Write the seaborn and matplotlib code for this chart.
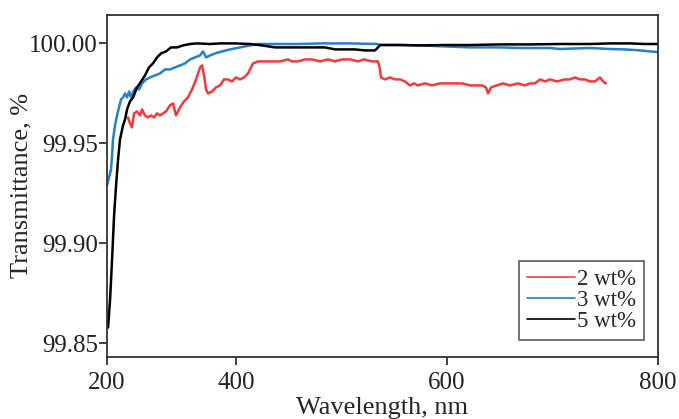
import pandas as pd
import seaborn as sns
import matplotlib.pyplot as plt
from matplotlib.lines import Line2D

# wavelength (nm) and transmittance (%)
wl_2 = [297.6, 299.5, 301.4, 303.3, 306.2, 309.0, 310.9, 313.7, 316.6, 319.4, 322.3, 325.1,
        328.0, 330.8, 333.6, 337.4, 340.3, 343.1, 346.9, 350.7, 354.5, 358.3, 362.1, 365.9,
        367.8, 369.7, 371.6, 373.5, 377.3, 381.0, 384.8, 388.6, 392.4, 396.2, 400.0, 403.8,
        407.6, 411.4, 414.2, 416.1, 420.9, 427.5, 434.1, 441.7, 449.3, 453.1, 458.8, 465.4,
        472.0, 479.6, 487.2, 493.8, 500.4, 508.1, 515.6, 521.3, 528.9, 534.6, 536.5, 537.4,
        541.2, 545.9, 550.7, 555.5, 560.2, 564.9, 568.7, 572.5, 579.1, 585.8, 593.4, 600.0,
        607.6, 614.2, 621.8, 627.5, 633.2, 637.0, 638.9, 641.7, 647.4, 653.1, 659.7, 667.3,
        673.9, 678.7, 683.4, 688.2, 692.9, 697.6, 704.3, 711.8, 716.6, 721.3, 726.1, 730.8,
        735.5, 740.3, 745.0, 747.9, 750.7]
tr_2 = [99.963, 99.960, 99.958, 99.965, 99.966, 99.964, 99.967, 99.964, 99.963, 99.964, 99.963, 99.965,
        99.964, 99.965, 99.966, 99.969, 99.970, 99.964, 99.968, 99.971, 99.973, 99.977, 99.982, 99.988,
        99.989, 99.984, 99.977, 99.975, 99.976, 99.978, 99.979, 99.982, 99.982, 99.981, 99.983, 99.982,
        99.983, 99.985, 99.988, 99.990, 99.991, 99.991, 99.991, 99.991, 99.992, 99.991, 99.991, 99.992,
        99.992, 99.991, 99.992, 99.991, 99.992, 99.992, 99.991, 99.992, 99.991, 99.991, 99.987, 99.983,
        99.982, 99.983, 99.982, 99.982, 99.981, 99.979, 99.980, 99.979, 99.980, 99.979, 99.980, 99.980,
        99.980, 99.980, 99.979, 99.979, 99.979, 99.978, 99.975, 99.978, 99.979, 99.980, 99.979, 99.980,
        99.979, 99.980, 99.980, 99.982, 99.981, 99.982, 99.981, 99.982, 99.982, 99.983, 99.982, 99.982,
        99.981, 99.981, 99.983, 99.981, 99.980]

wl_3 = [277.7, 279.6, 281.5, 282.5, 283.4, 285.3, 287.2, 289.1, 291.0, 292.9, 294.8, 296.7,
        298.6, 300.5, 302.4, 305.2, 308.1, 310.9, 314.7, 318.5, 323.2, 328.0, 332.7, 337.4,
        342.2, 346.9, 351.7, 356.4, 361.1, 365.9, 368.7, 371.6, 375.4, 380.1, 386.7, 394.3,
        403.8, 413.3, 420.9, 432.2, 446.4, 460.7, 479.6, 508.1, 533.6, 536.5, 555.5, 574.4,
        598.1, 621.8, 650.2, 669.2, 697.6, 707.1, 735.5, 754.5, 768.7, 782.9, 792.4, 800.0]
tr_3 = [99.929, 99.933, 99.937, 99.944, 99.952, 99.959, 99.964, 99.968, 99.972, 99.973, 99.975, 99.973,
        99.976, 99.973, 99.976, 99.978, 99.977, 99.980, 99.982, 99.983, 99.984, 99.985, 99.987, 99.987,
        99.988, 99.989, 99.990, 99.992, 99.993, 99.994, 99.996, 99.993, 99.994, 99.995, 99.996, 99.997,
        99.998, 99.999, 99.9997, 99.9997, 99.9997, 99.9997, 100.000, 100.000, 99.9997, 99.9992, 99.9992, 99.9990,
        99.9985, 99.998, 99.998, 99.9977, 99.9977, 99.9972, 99.9977, 99.9972, 99.997, 99.9965, 99.996, 99.9957]

wl_5 = [278.7, 280.6, 282.5, 284.4, 286.3, 288.2, 290.0, 292.9, 294.8, 296.7, 299.5, 302.4,
        306.2, 310.0, 313.7, 317.5, 321.3, 325.1, 328.9, 333.6, 338.4, 344.1, 349.8, 356.4,
        363.0, 375.4, 384.8, 399.1, 413.3, 424.6, 437.0, 451.2, 460.7, 474.9, 484.4, 493.8,
        503.3, 512.8, 522.3, 531.8, 534.6, 536.5, 555.5, 574.4, 598.1, 621.8, 650.2, 678.7,
        707.1, 735.5, 754.5, 773.4, 787.7, 800.0]
tr_5 = [99.858, 99.872, 99.892, 99.914, 99.929, 99.942, 99.952, 99.959, 99.962, 99.967, 99.971, 99.973,
        99.978, 99.981, 99.984, 99.988, 99.990, 99.993, 99.995, 99.996, 99.998, 99.998, 99.999, 99.9997,
        100.000, 99.9997, 100.000, 100.000, 99.9997, 99.999, 99.998, 99.998, 99.998, 99.998, 99.998, 99.997,
        99.997, 99.997, 99.9965, 99.9965, 99.998, 99.9992, 99.9992, 99.9990, 99.9992, 99.9992, 99.9995, 99.9995,
        99.9997, 99.9997, 100.000, 100.000, 99.9997, 99.9997]

labels = ['2 wt%', '3 wt%', '5 wt%']
colors = ['#ee3b3b', '#2a7fc6', '#000000']

df = pd.concat([
    pd.DataFrame({'wl': wl_2, 'T': tr_2, 'sample': labels[0]}),
    pd.DataFrame({'wl': wl_3, 'T': tr_3, 'sample': labels[1]}),
    pd.DataFrame({'wl': wl_5, 'T': tr_5, 'sample': labels[2]}),
])

sns.set_style('ticks')
plt.rcParams['font.family'] = ['Liberation Serif', 'DejaVu Serif']

fig = plt.figure(figsize=(6.79, 4.19), dpi=100)
ax = fig.add_axes([0.1576, 0.1487, 0.8114, 0.8155])
sns.lineplot(data=df, x='wl', y='T', hue='sample', palette=dict(zip(labels, colors)),
             estimator=None, linewidth=1.8, legend=False, ax=ax)

ax.set_xlim(277.7, 800)
ax.set_ylim(99.8434, 100.0142)
ax.set_xticks([277.7, 400, 600, 800])
ax.set_xticklabels(['200', '400', '600', '800'])
ax.set_yticks([99.85, 99.90, 99.95, 100.00])
ax.set_yticklabels(['99.85', '99.90', '99.95', '100.00'])
ax.tick_params(labelsize=18, colors='#222222', length=5.5, width=1.2)
ax.tick_params(axis='x', pad=5.5)
ax.tick_params(axis='y', pad=1)
for s in ax.spines.values():
    s.set_color('#333333')
    s.set_linewidth(1.3)

ax.set_xlabel('Wavelength, nm', fontsize=19)
ax.set_ylabel('Transmittance, %', fontsize=19)
ax.xaxis.set_label_coords(0.5, -0.118)
ax.yaxis.set_label_coords(-0.136, 0.5)

handles = [Line2D([], [], color=c, lw=1.2) for c in colors]
leg = ax.legend(handles, labels, loc='lower right', fontsize=16.5, frameon=True, fancybox=False,
                handlelength=2.1, handletextpad=0.1, labelspacing=0.0, borderpad=0.35,
                borderaxespad=0, bbox_to_anchor=(0.975, 0.049))
leg.get_frame().set_edgecolor('#333333')
leg.get_frame().set_linewidth(1.2)

fig.savefig('out.png', dpi=100)
